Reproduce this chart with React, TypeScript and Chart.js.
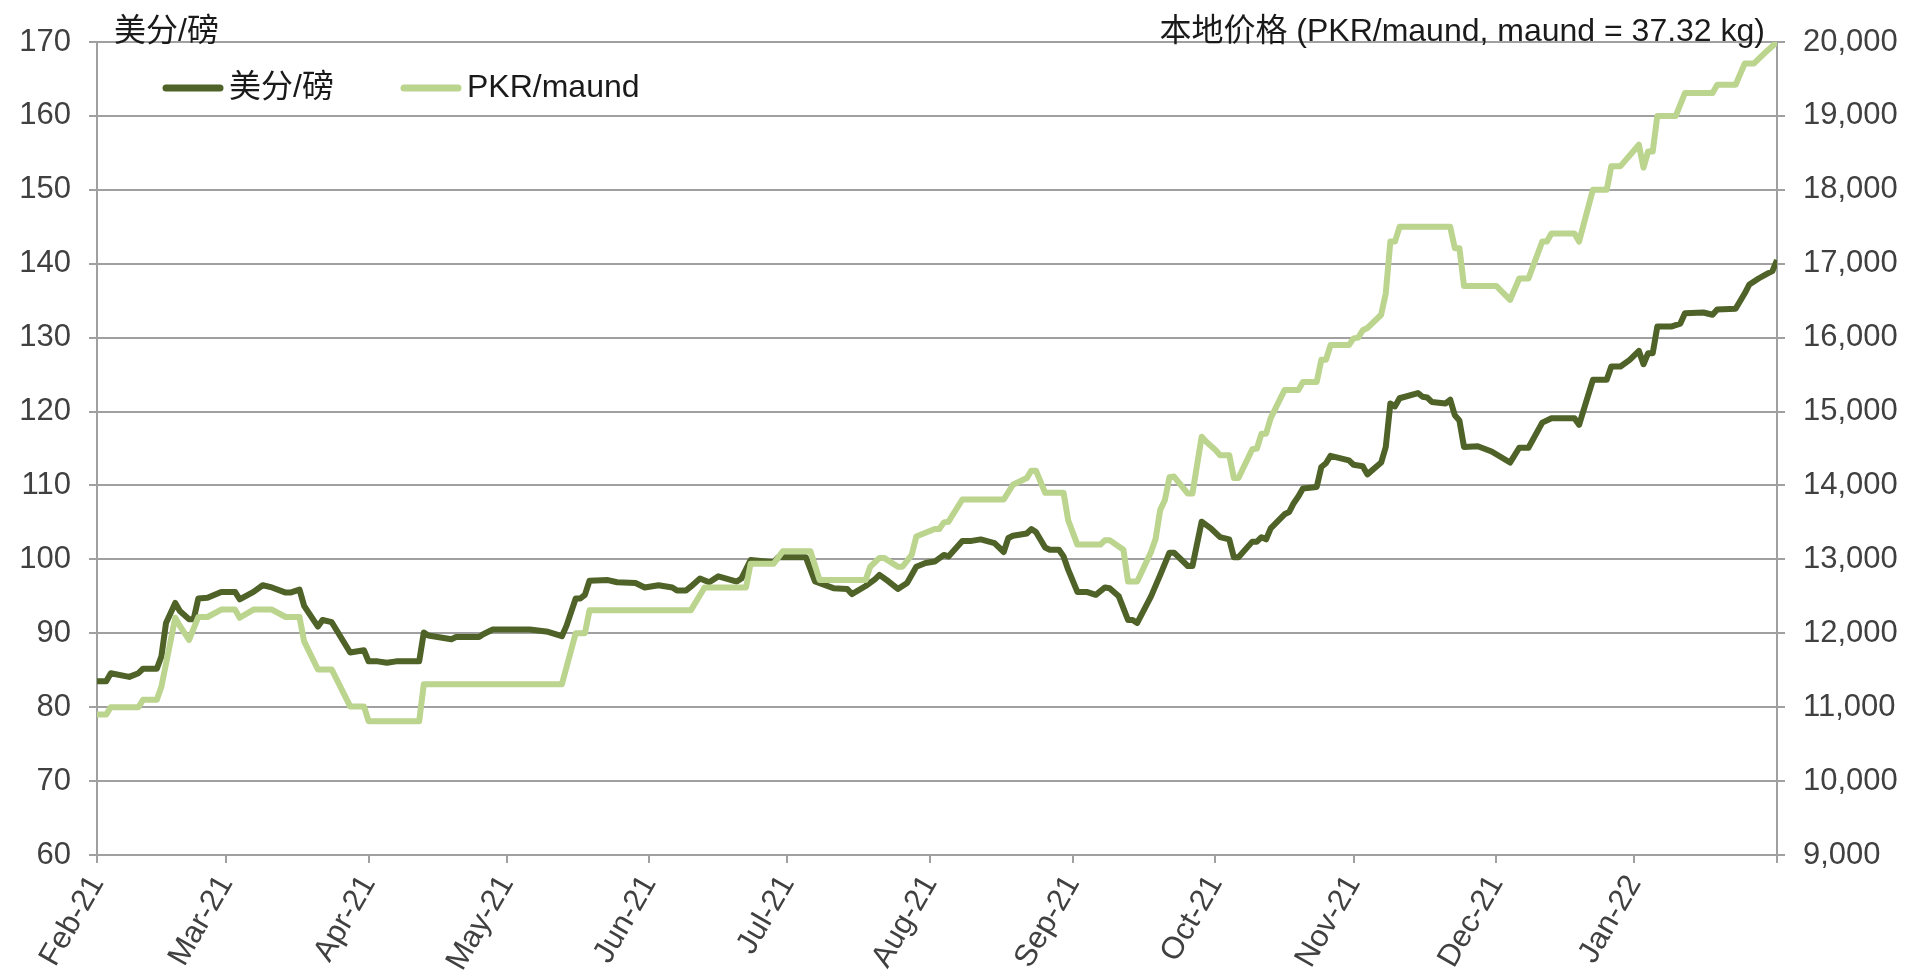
import React, { useEffect, useRef } from "react";
import { Chart, registerables } from "chart.js";

Chart.register(...registerables);

// Day offsets from 1 Feb 2021 for month starts (x axis ticks)
const MONTH_OFFSETS = [0, 28, 59, 89, 120, 150, 181, 212, 243, 273, 304, 334, 365];
const MONTH_LABELS = ["Feb-21", "Mar-21", "Apr-21", "May-21", "Jun-21", "Jul-21", "Aug-21", "Sep-21", "Oct-21", "Nov-21", "Dec-21", "Jan-22", ""];

// 美分/磅 series (day offset, value)
const usDays = [0, 2, 3, 7, 9, 10, 13, 14, 15, 17, 18, 20, 21, 22, 24, 27, 30, 31, 34, 36, 38, 41, 42, 44, 45, 48, 49, 51, 55, 58, 59, 61, 63, 65, 70, 71, 72, 76, 77, 78, 83, 84, 86, 94, 98, 101, 102, 104, 105, 106, 107, 111, 113, 117, 119, 121, 122, 125, 126, 128, 129, 131, 133, 135, 139, 140, 142, 147, 148, 154, 156, 160, 163, 164, 167, 169, 170, 172, 174, 176, 178, 180, 182, 184, 185, 188, 190, 192, 195, 197, 198, 199, 202, 203, 204, 206, 207, 209, 210, 211, 213, 215, 217, 219, 220, 222, 224, 225, 226, 229, 231, 233, 234, 237, 238, 240, 242, 244, 246, 247, 248, 251, 252, 253, 254, 255, 258, 259, 260, 261, 262, 265, 266, 267, 268, 272, 273, 275, 276, 279, 280, 281, 282, 283, 287, 288, 289, 290, 293, 294, 295, 296, 297, 300, 303, 307, 309, 311, 314, 316, 321, 322, 325, 328, 329, 331, 333, 335, 336, 337, 338, 339, 342, 344, 345, 349, 351, 352, 356, 358, 359, 361, 363, 364, 365];
const usCents = [83.5, 83.5, 84.6, 84.1, 84.6, 85.2, 85.2, 86.9, 91.4, 94.1, 93.0, 91.9, 91.9, 94.7, 94.8, 95.6, 95.6, 94.6, 95.6, 96.5, 96.2, 95.5, 95.5, 95.9, 93.7, 90.9, 91.8, 91.5, 87.4, 87.7, 86.2, 86.2, 86.0, 86.2, 86.2, 90.1, 89.7, 89.3, 89.2, 89.5, 89.5, 89.9, 90.5, 90.5, 90.2, 89.6, 91.0, 94.7, 94.7, 95.2, 97.1, 97.2, 96.9, 96.8, 96.2, 96.4, 96.5, 96.2, 95.8, 95.8, 96.3, 97.4, 96.9, 97.7, 97.0, 97.4, 99.9, 99.6, 100.3, 100.3, 97.0, 96.1, 96.0, 95.3, 96.4, 97.3, 97.9, 97.0, 96.0, 96.8, 99.0, 99.5, 99.7, 100.6, 100.4, 102.5, 102.5, 102.7, 102.2, 101.0, 102.9, 103.2, 103.5, 104.1, 103.7, 101.6, 101.3, 101.3, 100.4, 98.6, 95.6, 95.6, 95.2, 96.2, 96.1, 95.0, 91.8, 91.8, 91.4, 95.0, 97.9, 100.9, 100.9, 99.1, 99.1, 105.1, 104.2, 103.0, 102.7, 100.3, 100.3, 102.4, 102.4, 103.0, 102.7, 104.2, 106.1, 106.4, 107.6, 108.5, 109.6, 109.8, 112.5, 113.0, 114.0, 113.4, 112.8, 112.6, 111.5, 113.1, 115.2, 121.1, 120.7, 121.8, 122.5, 122.0, 121.9, 121.3, 121.1, 121.6, 119.5, 118.8, 115.2, 115.3, 114.6, 113.1, 115.1, 115.1, 118.5, 119.1, 119.1, 118.2, 124.3, 124.3, 126.1, 126.1, 127.0, 128.2, 126.4, 127.9, 127.9, 131.5, 131.5, 131.9, 133.3, 133.4, 133.1, 133.8, 133.9, 136.0, 137.2, 138.0, 138.7, 139.0, 140.5];

// PKR/maund series (day offset, value)
const pkrDays = [0, 2, 3, 9, 10, 13, 14, 17, 18, 20, 22, 24, 27, 30, 31, 34, 38, 41, 44, 45, 48, 51, 55, 58, 59, 70, 71, 101, 104, 106, 107, 129, 132, 141, 142, 147, 149, 155, 157, 167, 168, 170, 171, 174, 175, 177, 178, 182, 183, 184, 185, 188, 197, 199, 202, 203, 204, 206, 210, 211, 213, 218, 219, 220, 223, 224, 226, 229, 230, 231, 232, 233, 234, 237, 238, 240, 241, 243, 244, 246, 247, 248, 251, 252, 253, 254, 255, 258, 261, 262, 265, 266, 267, 268, 272, 273, 274, 275, 276, 279, 280, 281, 282, 283, 294, 295, 296, 297, 304, 307, 309, 311, 314, 315, 316, 321, 322, 325, 328, 329, 331, 335, 336, 337, 338, 339, 343, 345, 351, 352, 356, 358, 360, 363, 365];
const pkrValues = [10900, 10900, 11000, 11000, 11100, 11100, 11280, 12210, 12100, 11910, 12220, 12220, 12320, 12320, 12210, 12320, 12320, 12220, 12220, 11890, 11510, 11510, 11010, 11010, 10810, 10810, 11310, 11310, 12000, 12000, 12310, 12310, 12620, 12620, 12940, 12940, 13110, 13110, 12720, 12720, 12900, 13020, 13020, 12900, 12900, 13060, 13310, 13410, 13410, 13500, 13510, 13810, 13810, 14010, 14100, 14200, 14200, 13900, 13900, 13530, 13200, 13200, 13260, 13260, 13130, 12700, 12700, 13100, 13280, 13670, 13800, 14110, 14120, 13890, 13890, 14660, 14590, 14480, 14410, 14410, 14100, 14100, 14490, 14500, 14700, 14700, 14910, 15290, 15290, 15400, 15400, 15700, 15700, 15900, 15900, 15990, 16000, 16100, 16130, 16310, 16600, 17300, 17300, 17500, 17500, 17210, 17210, 16700, 16700, 16510, 16800, 16800, 17300, 17300, 17410, 17410, 17300, 18000, 18000, 18320, 18320, 18610, 18300, 18520, 18520, 19000, 19000, 19310, 19310, 19420, 19420, 19710, 19710, 19890, 20000];

const SERIES_NAMES = ["美分/磅", "PKR/maund"];
const LEFT_TITLE = "美分/磅";
const RIGHT_TITLE = "本地价格 (PKR/maund, maund = 37.32 kg)";

const DARK = "#4F6228";
const LIGHT = "#BBD48E";
const GRID = "#a0a0a0";
const TICK_COLOR = "#404040";
const FONT_FAMILY = '"Liberation Sans", Arial, "Noto Sans CJK SC", sans-serif';
const TICK_FONT_SIZE = 31;
const TEXT_FONT_SIZE = 32;

const overlayPlugin = {
  id: "overlay",
  afterDraw(chart: any) {
    const ctx = chart.ctx as CanvasRenderingContext2D;
    const area = chart.chartArea;
    ctx.save();
    ctx.font = `${TEXT_FONT_SIZE}px ${FONT_FAMILY}`;
    ctx.fillStyle = "#1a1a1a";
    ctx.textBaseline = "middle";
    // axis titles
    ctx.textAlign = "left";
    ctx.fillText(LEFT_TITLE, area.left + 17, 32);
    ctx.textAlign = "right";
    ctx.fillText(RIGHT_TITLE, area.right - 12, 32);
    // legend
    const ly = 88;
    const items = [
      { name: SERIES_NAMES[0], color: DARK, x: 166 },
      { name: SERIES_NAMES[1], color: LIGHT, x: 404 },
    ];
    ctx.textAlign = "left";
    ctx.lineCap = "round";
    for (const it of items) {
      ctx.strokeStyle = it.color;
      ctx.lineWidth = 7;
      ctx.beginPath();
      ctx.moveTo(it.x, ly);
      ctx.lineTo(it.x + 54, ly);
      ctx.stroke();
      ctx.fillStyle = "#1a1a1a";
      ctx.fillText(it.name, it.x + 63, ly);
    }
    ctx.restore();
  },
};

export default function App() {
  const ref = useRef<HTMLCanvasElement | null>(null);
  useEffect(() => {
    if (!ref.current) return;
    const font = { family: FONT_FAMILY, size: TICK_FONT_SIZE };
    const chart = new Chart(ref.current, {
      type: "line",
      data: {
        datasets: [
          {
            label: SERIES_NAMES[0],
            data: usDays.map((d, i) => ({ x: d, y: usCents[i] })),
            borderColor: DARK,
            backgroundColor: DARK,
            borderWidth: 6,
            pointRadius: 0,
            tension: 0,
            yAxisID: "y",
            order: 1,
            borderJoinStyle: "round",
          },
          {
            label: SERIES_NAMES[1],
            data: pkrDays.map((d, i) => ({ x: d, y: pkrValues[i] })),
            borderColor: LIGHT,
            backgroundColor: LIGHT,
            borderWidth: 6,
            pointRadius: 0,
            tension: 0,
            yAxisID: "y1",
            order: 0,
            borderJoinStyle: "round",
          },
        ],
      },
      options: {
        animation: false,
        responsive: false,
        maintainAspectRatio: false,
        devicePixelRatio: 1,
        layout: { padding: { top: 42, left: 0, right: 0, bottom: 0 } },
        plugins: { legend: { display: false }, tooltip: { enabled: false } },
        scales: {
          x: {
            type: "linear",
            min: 0,
            max: 365,
            afterBuildTicks: (scale: any) => {
              scale.ticks = MONTH_OFFSETS.map((v) => ({ value: v }));
            },
            afterFit: (scale: any) => {
              scale.height = 118;
            },
            ticks: {
              autoSkip: false,
              minRotation: 60,
              maxRotation: 60,
              padding: 6,
              color: TICK_COLOR,
              font,
              callback: (_v: any, i: number) => MONTH_LABELS[i],
            },
            grid: { drawOnChartArea: false, drawTicks: true, tickLength: 8, color: GRID, lineWidth: 2 },
            border: { color: GRID, width: 2 },
          },
          y: {
            position: "left",
            min: 60,
            max: 170,
            afterFit: (scale: any) => {
              scale.width = 97;
            },
            ticks: { stepSize: 10, color: TICK_COLOR, font, padding: 18 },
            grid: { color: GRID, lineWidth: 2, tickLength: 8 },
            border: { color: GRID, width: 2 },
          },
          y1: {
            position: "right",
            min: 9000,
            max: 20000,
            afterFit: (scale: any) => {
              scale.width = 141;
            },
            ticks: {
              stepSize: 1000,
              color: TICK_COLOR,
              font,
              padding: 18,
              callback: (v: any) => Number(v).toLocaleString("en-US"),
            },
            grid: { drawOnChartArea: false, color: GRID, lineWidth: 2, tickLength: 8 },
            border: { color: GRID, width: 2 },
          },
        },
      } as any,
      plugins: [overlayPlugin],
    });
    return () => chart.destroy();
  }, []);
  return (
    <div style={{ position: "fixed", left: 0, top: 0, width: 1918, height: 973, background: "#fff" }}>
      <canvas ref={ref} width={1918} height={973} style={{ width: 1918, height: 973 }} />
    </div>
  );
}
